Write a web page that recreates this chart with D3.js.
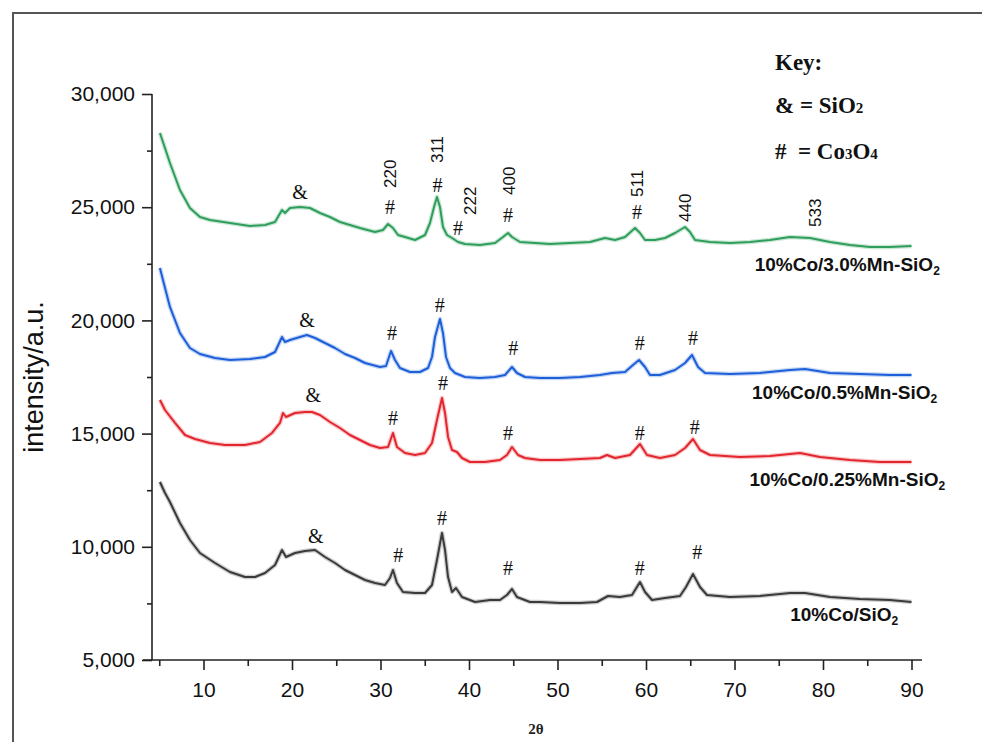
<!DOCTYPE html>
<html>
<head>
<meta charset="utf-8">
<script src="https://cdn.jsdelivr.net/npm/d3@7/dist/d3.min.js"></script>
<style>
  body { margin: 0; background: #fff; }
  .axis text { font-family: "Liberation Sans", Arial, sans-serif; font-size: 21px; fill: #111; }
  .axis path, .axis line { stroke: #222; stroke-width: 1.6; }
</style>
</head>
<body>
<div class="svg-container"></div>
<script>
// ---- data (2theta in degrees, intensity in a.u.) ----
var thetaCo = [5.08, 5.65, 6.21, 7.34, 8.47, 9.60, 11.30, 12.99, 14.69, 15.82, 16.95, 18.08, 18.87, 19.32, 20.34, 21.47, 22.60, 23.73, 24.86, 25.99, 27.12, 28.25, 29.38, 30.51, 31.07, 31.41, 31.86, 32.54, 33.90, 35.03, 35.82, 36.38, 36.95, 37.29, 37.63, 38.08, 38.53, 39.21, 40.68, 42.37, 43.50, 44.29, 44.86, 45.42, 46.89, 48.02, 50.28, 52.54, 54.46, 55.71, 57.06, 58.42, 59.32, 59.89, 60.68, 62.15, 63.84, 64.52, 65.31, 66.10, 66.89, 69.49, 72.88, 76.27, 77.97, 80.79, 84.18, 87.57, 90];
var intCo = [12862, 12376, 11979, 11051, 10300, 9726, 9284, 8887, 8666, 8666, 8843, 9196, 9859, 9550, 9726, 9815, 9859, 9550, 9284, 8975, 8754, 8534, 8401, 8313, 8622, 8975, 8401, 8004, 7959, 7959, 8313, 9417, 10610, 9859, 8666, 8004, 8180, 7783, 7562, 7650, 7650, 7871, 8136, 7783, 7562, 7562, 7518, 7518, 7562, 7827, 7783, 7871, 8445, 8004, 7650, 7739, 7827, 8224, 8799, 8224, 7871, 7783, 7827, 7959, 7959, 7783, 7694, 7650, 7562];

var thetaMn025 = [5.08, 5.65, 6.78, 7.91, 9.04, 10.73, 12.43, 14.69, 16.38, 17.74, 18.64, 18.98, 19.32, 20.34, 21.47, 22.26, 23.16, 24.29, 25.42, 26.55, 27.68, 28.81, 29.94, 30.85, 31.41, 31.86, 32.77, 33.90, 35.03, 35.82, 36.38, 36.95, 37.29, 37.63, 38.08, 38.64, 39.21, 40.11, 41.81, 43.50, 44.29, 44.86, 45.54, 46.33, 48.02, 50.28, 52.54, 54.80, 55.59, 56.50, 58.19, 59.32, 60.11, 61.58, 63.28, 64.41, 65.31, 66.10, 67.23, 70.62, 74.01, 77.40, 79.66, 83.05, 86.44, 90];
var intMn025 = [16484, 16043, 15469, 14938, 14762, 14585, 14497, 14497, 14629, 15027, 15469, 15910, 15733, 15910, 15954, 15954, 15822, 15513, 15248, 14938, 14717, 14497, 14364, 14408, 15027, 14408, 14143, 14055, 14143, 14585, 15601, 16573, 15910, 14850, 14276, 14188, 13923, 13746, 13746, 13834, 14055, 14408, 14055, 13923, 13834, 13834, 13878, 13923, 14055, 13923, 14055, 14541, 14055, 13923, 14055, 14364, 14762, 14276, 14055, 13967, 14011, 14143, 13967, 13834, 13746, 13746];

var thetaMn05 = [5.08, 5.42, 6.21, 7.34, 8.47, 9.60, 11.30, 12.99, 15.25, 16.95, 18.08, 18.87, 19.21, 19.77, 20.90, 21.69, 22.60, 23.73, 24.86, 25.99, 27.12, 28.25, 29.94, 30.62, 31.19, 31.64, 32.20, 33.33, 34.46, 35.37, 35.82, 36.16, 36.72, 37.06, 37.40, 37.85, 38.42, 39.55, 41.24, 42.94, 44.07, 44.86, 45.42, 46.33, 48.02, 50.28, 52.54, 54.80, 56.16, 57.63, 58.53, 59.21, 59.89, 60.45, 61.58, 63.28, 64.41, 65.20, 65.88, 66.67, 69.49, 72.88, 76.27, 77.97, 80.79, 84.18, 87.57, 90];
var intMn05 = [22315, 21785, 20593, 19444, 18781, 18516, 18339, 18251, 18295, 18384, 18604, 19267, 19046, 19134, 19267, 19355, 19223, 19002, 18781, 18516, 18339, 18118, 17942, 17986, 18649, 18251, 17898, 17721, 17721, 17898, 18384, 19267, 20062, 19444, 18384, 17898, 17677, 17500, 17456, 17500, 17588, 17942, 17677, 17500, 17456, 17456, 17500, 17588, 17677, 17721, 18030, 18251, 17942, 17588, 17588, 17809, 18118, 18472, 17942, 17677, 17633, 17677, 17809, 17854, 17677, 17633, 17588, 17588];

var thetaMn30 = [5.08, 6.21, 7.34, 8.47, 9.60, 10.73, 12.99, 15.25, 16.95, 18.08, 18.87, 19.21, 19.77, 20.90, 22.03, 23.16, 24.29, 25.42, 26.55, 27.68, 29.38, 30.28, 30.85, 31.41, 31.98, 32.77, 33.90, 35.03, 35.59, 36.05, 36.38, 36.72, 37.06, 37.51, 38.08, 38.76, 39.55, 41.24, 42.94, 43.84, 44.41, 44.86, 45.76, 47.46, 49.15, 51.41, 53.67, 55.37, 56.50, 57.63, 58.76, 59.32, 59.89, 61.02, 62.15, 63.28, 64.41, 64.97, 65.54, 67.23, 69.49, 71.75, 74.01, 76.27, 78.53, 80.79, 83.05, 85.31, 87.57, 90];
var intMn30 = [28277, 26952, 25760, 24965, 24567, 24435, 24302, 24170, 24214, 24346, 24877, 24744, 24965, 25009, 24965, 24744, 24567, 24346, 24214, 24081, 23905, 23993, 24258, 24081, 23772, 23684, 23551, 23772, 24302, 25009, 25451, 25009, 24126, 23772, 23640, 23463, 23374, 23330, 23418, 23684, 23861, 23684, 23463, 23418, 23374, 23418, 23463, 23640, 23551, 23684, 24081, 23861, 23551, 23551, 23640, 23861, 24126, 23905, 23551, 23463, 23418, 23463, 23551, 23684, 23640, 23463, 23330, 23242, 23242, 23286];

var seriesNames = ["10%Co/SiO2", "10%Co/0.25%Mn-SiO2", "10%Co/0.5%Mn-SiO2", "10%Co/3.0%Mn-SiO2"];
var seriesColors = ["#3a3a3a", "#e3262e", "#1d5fd8", "#2f9e5c"];
// where each sample name sits (right end, baseline) in chart units
var nameTheta = [88.5, 93.8, 92.9, 93.2];
var nameValue = [6720, 12690, 16530, 22180];

// axis ticks
var xTicks = [10, 20, 30, 40, 50, 60, 70, 80, 90];
var xMinor = [5, 15, 25, 35, 45, 55, 65, 75, 85];
var yTicks = [5000, 10000, 15000, 20000, 25000, 30000];
var yMinor = [7500, 12500, 17500, 22500, 27500];

// peak markers (& = SiO2, # = Co3O4)
var markSymbol = ["&", "#", "#", "#", "#", "#",
                  "&", "#", "#", "#", "#", "#",
                  "&", "#", "#", "#", "#", "#",
                  "&", "#", "#", "#", "#", "#"];
var markTheta = [22.7, 32.0, 36.95, 44.4, 59.3, 65.8,
                 22.4, 31.4, 37.05, 44.4, 59.3, 65.5,
                 21.7, 31.3, 36.7, 45.0, 59.3, 65.3,
                 20.9, 31.07, 36.44, 38.76, 44.41, 58.98];
var markValue = [10480, 9640, 11270, 9060, 9060, 9770,
                 16700, 15690, 17240, 15030, 15030, 15290,
                 20020, 19440, 20680, 18780, 19000, 19220,
                 25670, 25010, 25980, 24080, 24660, 24790];

// Miller indices on the top pattern (rotated; value = lower end of text)
var hklText = ["220", "311", "222", "400", "511", "440", "533"];
var hklTheta = [31.07, 36.44, 40.11, 44.52, 58.98, 64.41, 79.1];
var hklValue = [25850, 26950, 24660, 25540, 25450, 24350, 24130];

// ---- layout ----
var W = 982, H = 742;
var xLeft = 152, yBottom = 660;

var svg = d3.select(".svg-container").append("svg")
    .attr("width", W)
    .attr("height", H);

// outer frame of the figure
svg.append("rect")
    .attr("x", 13).attr("y", 13)
    .attr("width", 1000).attr("height", 800)
    .attr("fill", "none")
    .attr("stroke", "#555")
    .attr("stroke-width", 2);

var x = d3.scaleLinear().domain([5, 90]).range([159.25, 911.5]);
var y = d3.scaleLinear().domain([5000, 30000]).range([yBottom, 94]);

// X axis
var gx = svg.append("g").attr("class", "axis")
    .attr("transform", "translate(0," + yBottom + ")")
    .call(d3.axisBottom(x).tickValues(xTicks).tickSize(10).tickPadding(12).tickFormat(d3.format("d")));
gx.select(".domain").remove();
var gxm = svg.append("g").attr("class", "axis")
    .attr("transform", "translate(0," + yBottom + ")")
    .call(d3.axisBottom(x).tickValues(xMinor).tickSize(6).tickFormat(""));
gxm.select(".domain").remove();
svg.append("line")
    .attr("x1", 143).attr("x2", 922)
    .attr("y1", yBottom).attr("y2", yBottom)
    .attr("stroke", "#222").attr("stroke-width", 1.6);

// Y axis
var gy = svg.append("g").attr("class", "axis")
    .attr("transform", "translate(" + xLeft + ",0)")
    .call(d3.axisLeft(y).tickValues(yTicks).tickSize(10).tickPadding(7).tickFormat(d3.format(",")));
gy.select(".domain").remove();
var gym = svg.append("g").attr("class", "axis")
    .attr("transform", "translate(" + xLeft + ",0)")
    .call(d3.axisLeft(y).tickValues(yMinor).tickSize(5).tickFormat(""));
gym.select(".domain").remove();
svg.append("line")
    .attr("x1", xLeft).attr("x2", xLeft)
    .attr("y1", y(30000)).attr("y2", yBottom)
    .attr("stroke", "#222").attr("stroke-width", 1.6);

// axis titles
svg.append("text")
    .attr("transform", "translate(43,377) rotate(-90)")
    .attr("text-anchor", "middle")
    .style("font-family", "Liberation Sans, Arial, sans-serif")
    .style("font-size", "27px")
    .attr("fill", "#111")
    .text("intensity/a.u.");

svg.append("text")
    .attr("x", 536).attr("y", 734)
    .attr("text-anchor", "middle")
    .style("font-family", "Liberation Serif, serif")
    .style("font-weight", "bold")
    .style("font-size", "15px")
    .attr("fill", "#222")
    .text("2θ");

// ---- patterns ----
var thetaSets = [thetaCo, thetaMn025, thetaMn05, thetaMn30];
var intSets = [intCo, intMn025, intMn05, intMn30];

var line = d3.line()
    .x(function(d) { return x(d[0]); })
    .y(function(d) { return y(d[1]); });

for (let i = 0; i < thetaSets.length; i++) {
    var pts = d3.zip(thetaSets[i], intSets[i]);
    // faint halo, the scanned traces are fuzzy
    svg.append("path")
        .datum(pts)
        .attr("fill", "none")
        .attr("stroke", seriesColors[i])
        .attr("stroke-opacity", 0.25)
        .attr("stroke-width", 4.5)
        .attr("stroke-linejoin", "round")
        .attr("d", line);
    svg.append("path")
        .datum(pts)
        .attr("fill", "none")
        .attr("stroke", seriesColors[i])
        .attr("stroke-width", 2)
        .attr("stroke-linejoin", "round")
        .attr("d", line);

    // sample name with subscript 2
    var name = seriesNames[i];
    var t = svg.append("text")
        .attr("x", x(nameTheta[i])).attr("y", y(nameValue[i]))
        .attr("text-anchor", "end")
        .style("font-family", "Liberation Sans, Arial, sans-serif")
        .style("font-weight", "bold")
        .style("font-size", "19px")
        .attr("fill", "#111");
    t.append("tspan").text(name.slice(0, -1));
    t.append("tspan").attr("dy", 4).style("font-size", "12px").text(name.slice(-1));
}

// peak markers
svg.append("g")
    .selectAll("text")
    .data(markSymbol)
    .enter()
    .append("text")
        .attr("x", function(d, i) { return x(markTheta[i]); })
        .attr("y", function(d, i) { return y(markValue[i]); })
        .attr("dy", "0.35em")
        .attr("text-anchor", "middle")
        .style("font-family", "Liberation Serif, serif")
        .style("font-size", "20px")
        .attr("fill", "#111")
        .text(function(d) { return d; });

// hkl labels, rotated
svg.append("g")
    .selectAll("text")
    .data(hklText)
    .enter()
    .append("text")
        .attr("transform", function(d, i) {
            return "translate(" + x(hklTheta[i]) + "," + y(hklValue[i]) + ") rotate(-90)";
        })
        .attr("dy", "0.35em")
        .attr("text-anchor", "start")
        .style("font-family", "Liberation Sans, Arial, sans-serif")
        .style("font-size", "17px")
        .attr("fill", "#111")
        .text(function(d) { return d; });

// ---- key ----
var key = svg.append("g")
    .style("font-family", "Liberation Serif, serif")
    .style("font-weight", "bold")
    .style("font-size", "23px")
    .attr("fill", "#111");
key.append("text").attr("x", 775).attr("y", 70).text("Key:");
var k1 = key.append("text").attr("x", 775).attr("y", 113);
k1.append("tspan").text("& = SiO");
k1.append("tspan").style("font-size", "15px").text("2");
var k2 = key.append("text").attr("x", 775).attr("y", 159).attr("xml:space", "preserve");
k2.append("tspan").text("#  = Co");
k2.append("tspan").style("font-size", "15px").text("3");
k2.append("tspan").text("O");
k2.append("tspan").style("font-size", "15px").text("4");
</script>
</body>
</html>
